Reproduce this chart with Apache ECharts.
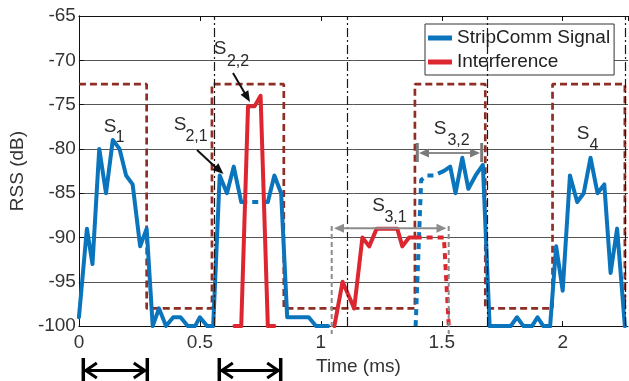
<!DOCTYPE html>
<html><head><meta charset="utf-8">
<script src="https://cdn.jsdelivr.net/npm/echarts@6/dist/echarts.min.js"></script>
<style>html,body{margin:0;padding:0;background:#fff}#c{width:629px;height:381px}</style>
</head><body><div id="c"></div>
<script>
// ---------- data ----------
const xTickValues = [0, 0.5, 1, 1.5, 2];
const xTickLabels = ['0', '0.5', '1', '1.5', '2'];
const yTickValues = [-100, -95, -90, -85, -80, -75, -70, -65];
const yTickLabels = ['-100', '-95', '-90', '-85', '-80', '-75', '-70', '-65'];

const signalSlot1 = [[0,-99],[0.033,-89],[0.056,-93],[0.084,-80],[0.112,-85],[0.14,-79],[0.168,-80],[0.195,-83],[0.222,-84],[0.253,-91],[0.28,-89],[0.305,-100],[0.331,-98],[0.36,-100],[0.39,-99],[0.42,-99],[0.45,-100],[0.48,-100],[0.5,-99],[0.53,-100],[0.555,-100],[0.582,-83],[0.612,-85],[0.64,-82],[0.671,-86]];
const signalBlocked2 = [[0.671,-86],[0.781,-86]];
const signalSlot2 = [[0.781,-86],[0.808,-83],[0.836,-85],[0.861,-99],[0.89,-99],[0.92,-99],[0.95,-99],[0.98,-100],[1.03,-100]];
const signalBlocked3 = [[1.392,-100],[1.415,-83.5],[1.44,-83],[1.468,-83],[1.508,-82.5]];
const signalSlot3 = [[1.508,-82.5],[1.535,-82],[1.557,-85],[1.585,-81],[1.61,-84.5],[1.64,-83],[1.67,-81.8],[1.698,-100],[1.785,-100],[1.811,-99],[1.838,-100],[1.873,-100],[1.896,-99],[1.92,-100],[1.948,-100]];
const signalSlot4 = [[1.948,-100],[1.973,-91],[2.0,-96],[2.03,-83],[2.06,-86],[2.087,-85],[2.115,-81],[2.144,-85],[2.172,-84],[2.198,-94],[2.225,-89],[2.257,-100]];

const interferenceSlot2 = [[0.643,-100],[0.671,-100],[0.699,-75.2],[0.726,-75.2],[0.751,-74],[0.781,-100],[0.808,-100]];
const interferenceSlot3 = [[1.056,-100],[1.09,-95],[1.138,-98],[1.172,-90],[1.2,-91],[1.231,-89],[1.316,-89],[1.337,-91],[1.365,-90],[1.392,-90]];
const interferenceBlocked3 = [[1.392,-90],[1.509,-90],[1.529,-100]];

const windowEdges = [0, 0.28, 0.55, 0.847, 1.389, 1.68, 1.958, 2.257];
const windowLevels = [-72.7, -98, -72.7, -98, -72.7, -98, -72.7, -98];
const slotBoundaries = [0.555, 1.115, 1.69, 2.258];

// ---------- styles ----------
const FONT = "'Liberation Sans', Arial, sans-serif";
const BLUE = '#0a74bd';
const RED = '#dc2630';
const BROWN = '#8f2e24';
const TXT = '#333';

const windowData = windowEdges.map((x, i) => [x, windowLevels[i]]);

function lineSeries(name, data, color, dashed) {
  return {
    name: name, type: 'line', data: data, symbol: 'none', silent: true,
    animation: false, color: color,
    lineStyle: { color: color, width: 4, type: dashed ? [6, 5] : 'solid', join: 'round', cap: dashed ? 'butt' : 'round' },
    z: 3
  };
}

const option = {
  animation: false,
  textStyle: { fontFamily: FONT },
  grid: { left: 77, right: 1, top: 16, bottom: 47 },
  legend: {
    data: ['StripComm Signal', 'Interference'],
    orient: 'vertical', left: 425, top: 24,
    padding: [3, 4, 2, 3], itemGap: 2, itemWidth: 24, itemHeight: 5,
    icon: 'rect', borderColor: '#333', borderWidth: 1, backgroundColor: '#fff',
    textStyle: { fontSize: 19, lineHeight: 22, color: '#222', fontFamily: FONT },
    selectedMode: false
  },
  xAxis: [{
    type: 'value', min: 0, max: 2.27, interval: 0.5,
    axisLine: { show: true, lineStyle: { color: '#111', width: 1 } },
    axisTick: { show: true, inside: true, length: 5, lineStyle: { color: '#111' } },
    axisLabel: { fontSize: 19, color: TXT, margin: 7, showMaxLabel: false, fontFamily: FONT,
      formatter: v => { const i = xTickValues.indexOf(Math.round(v * 10) / 10); return i >= 0 ? xTickLabels[i] : ''; } },
    splitLine: { show: false },
    name: 'Time (ms)', nameLocation: 'middle', nameGap: 24,
    nameTextStyle: { fontSize: 19, color: TXT, fontFamily: FONT, padding: [0, 0, 0, 10] }
  }, {
    type: 'value', min: 0, max: 2.27, interval: 0.5, position: 'top',
    axisLine: { show: true, lineStyle: { color: '#111', width: 1 } },
    axisTick: { show: true, inside: true, length: 5, lineStyle: { color: '#111' } },
    axisLabel: { show: false }, splitLine: { show: false }
  }],
  yAxis: [{
    type: 'value', min: -100, max: -65, interval: 5,
    axisLine: { show: true, lineStyle: { color: '#111', width: 1 } },
    axisTick: { show: true, inside: true, length: 5, lineStyle: { color: '#111' } },
    axisLabel: { fontSize: 19, color: TXT, margin: 3, fontFamily: FONT,
      formatter: v => { const i = yTickValues.indexOf(v); return i >= 0 ? yTickLabels[i] : ''; } },
    splitLine: { show: true, lineStyle: { color: '#555', width: 1 } },
    name: 'RSS (dB)', nameLocation: 'middle', nameGap: 47,
    nameTextStyle: { fontSize: 19, color: TXT, fontFamily: FONT }
  }, {
    type: 'value', min: -100, max: -65, interval: 5, position: 'right',
    axisLine: { show: true, lineStyle: { color: '#111', width: 1 } },
    axisTick: { show: false }, axisLabel: { show: false }, splitLine: { show: false }
  }],
  series: [
    {
      name: 'boundaries', type: 'line', data: [], silent: true, z: 1,
      markLine: {
        silent: true, symbol: 'none', label: { show: false },
        lineStyle: { color: '#1a1a1a', width: 1.2, type: [9, 3, 2, 3] },
        data: slotBoundaries.map(x => ({ xAxis: x }))
      }
    },
    {
      name: 'window', type: 'line', data: windowData, step: 'end', symbol: 'none', silent: true, z: 2,
      lineStyle: { color: BROWN, width: 2.7, type: [7, 4] }
    },
    lineSeries('StripComm Signal', signalSlot1, BLUE, false),
    lineSeries('signal-blocked-2', signalBlocked2, BLUE, true),
    lineSeries('StripComm Signal', signalSlot2, BLUE, false),
    lineSeries('signal-blocked-3', signalBlocked3, BLUE, true),
    lineSeries('StripComm Signal', signalSlot3, BLUE, false),
    lineSeries('StripComm Signal', signalSlot4, BLUE, false),
    lineSeries('Interference', interferenceSlot2, RED, false),
    lineSeries('Interference', interferenceSlot3, RED, false),
    lineSeries('interference-blocked-3', interferenceBlocked3, RED, true)
  ]
};

const chart = echarts.init(document.getElementById('c'), null, { renderer: 'canvas' });
chart.setOption(option);

// ---------- annotations (pixel space) ----------
function seg(x1, y1, x2, y2, color, w, dash) {
  return { type: 'line', silent: true, z: 10,
    shape: { x1: x1, y1: y1, x2: x2, y2: y2 },
    style: { stroke: color, lineWidth: w, lineDash: dash || null, lineCap: 'butt' } };
}
function head(tx, ty, fx, fy, len, hw, color) {
  const dx = tx - fx, dy = ty - fy, L = Math.hypot(dx, dy);
  const ux = dx / L, uy = dy / L, bx = tx - ux * len, by = ty - uy * len;
  return { type: 'polygon', silent: true, z: 10,
    shape: { points: [[tx, ty], [bx - uy * hw, by + ux * hw], [bx + uy * hw, by - ux * hw]] },
    style: { fill: color } };
}
function chevron(tx, ty, dir, color) {
  return { type: 'polyline', silent: true, z: 10,
    shape: { points: [[tx + dir * 11, ty - 7.5], [tx, ty], [tx + dir * 11, ty + 7.5]] },
    style: { stroke: color, lineWidth: 3, fill: null } };
}
function label(sx, sy, sub, bx, by) {
  return [
    { type: 'text', silent: true, z: 11, x: sx, y: sy,
      style: { text: 'S', fontSize: 19, fontFamily: FONT, fill: '#2a2a2a', align: 'center', verticalAlign: 'middle' } },
    { type: 'text', silent: true, z: 11, x: bx, y: by,
      style: { text: sub, fontSize: 16, fontFamily: FONT, fill: '#2a2a2a', align: 'center', verticalAlign: 'middle' } }
  ];
}
const G = [];
// black pointer arrows
G.push(seg(197, 150, 218, 169.5, '#111', 2));
G.push(head(223.5, 174, 197, 150, 11, 4.5, '#111'));
G.push(seg(233, 73, 247, 97, '#111', 2));
G.push(head(250, 102, 233, 73, 11, 4.5, '#111'));
// S3,1 dimension
G.push(seg(331.7, 226, 331.7, 334, '#8c8c8c', 2, [5, 3]));
G.push(seg(448.7, 226, 448.7, 334, '#8c8c8c', 2, [5, 3]));
G.push(seg(340, 228.3, 440, 228.3, '#8c8c8c', 2));
G.push(head(334, 228.3, 440, 228.3, 10, 4.5, '#8c8c8c'));
G.push(head(446.5, 228.3, 340, 228.3, 10, 4.5, '#8c8c8c'));
// S3,2 dimension
G.push(seg(417.3, 143, 417.3, 162, '#7a7a7a', 3));
G.push(seg(481.7, 143, 481.7, 162, '#7a7a7a', 3));
G.push(seg(425, 153, 474, 153, '#8c8c8c', 2));
G.push(head(419, 153, 474, 153, 10, 4.5, '#7a7a7a'));
G.push(head(480, 153, 425, 153, 10, 4.5, '#7a7a7a'));
// bottom arrows
[[83.3, 147.3], [219.3, 280.7]].forEach(([a, b]) => {
  G.push(seg(a, 358, a, 381, '#000', 3.5));
  G.push(seg(b, 358, b, 381, '#000', 3.5));
  G.push(seg(a + 2, 370.5, b - 2, 370.5, '#000', 3));
  G.push(chevron(a + 2.5, 370.5, 1, '#000'));
  G.push(chevron(b - 2.5, 370.5, -1, '#000'));
});
// labels
G.push(...label(110, 126.5, '1', 120, 137.5));
G.push(...label(180, 125, '2,1', 196.5, 136.5));
G.push(...label(220, 49, '2,2', 238, 61.5));
G.push(...label(378.5, 206, '3,1', 395.5, 217.5));
G.push(...label(440, 129, '3,2', 458.5, 141));
G.push(...label(583, 134, '4', 594, 146));

chart.setOption({ graphic: G });
</script>
</body></html>
